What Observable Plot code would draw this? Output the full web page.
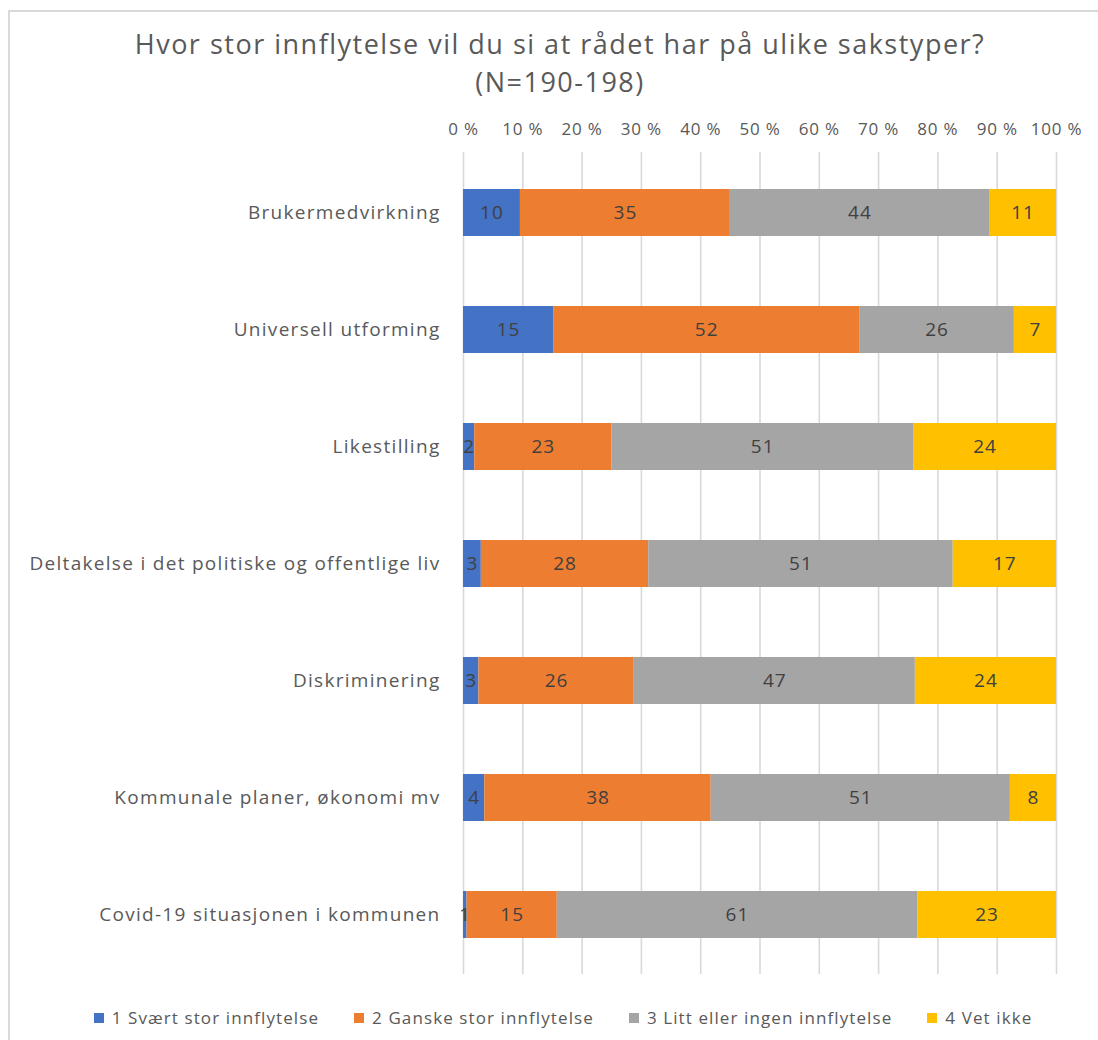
<!DOCTYPE html>
<html>
<head>
<meta charset="utf-8">
<script src="https://cdn.jsdelivr.net/npm/d3@7"></script>
<script src="https://cdn.jsdelivr.net/npm/@observablehq/plot@0.6"></script>
<style>
  html, body { margin: 0; padding: 0; background: #fff; }
  #wrap { position: relative; width: 1098px; height: 1040px; overflow: hidden; font-family: "Open Sans", sans-serif; }
  #frame { position: absolute; left: 8px; top: 10px; width: 1200px; height: 1200px; border-left: 2px solid #d9d9d9; border-top: 2px solid #d9d9d9; box-sizing: border-box; }
  #title { position: absolute; left: 0; top: 25px; width: 1120px; text-align: center; color: #595959; font-size: 27px; line-height: 38px; letter-spacing: 1.5px; }
  #chart { position: absolute; left: 0; top: 102px; }
  #chart g[aria-label="y-axis tick label"] text { letter-spacing: 1.3px; }
  #chart g[aria-label="x-axis tick label"] text { letter-spacing: 0.8px; }
  #chart g[aria-label="text"] text { letter-spacing: 1px; }
  #legend { position: absolute; left: 0; top: 1006px; width: 1126px; display: flex; justify-content: center; gap: 35px; color: #595959; font-size: 17px; letter-spacing: 1.1px; }
  #legend .item { display: flex; align-items: center; gap: 8px; }
  #legend .sw { width: 10px; height: 10px; display: inline-block; }
</style>
</head>
<body>
<div id="wrap">
  <div id="frame"></div>
  <div id="title"></div>
  <div id="chart"></div>
  <div id="legend"></div>
</div>
<script>
const titleLines = ["Hvor stor innflytelse vil du si at rådet har på ulike sakstyper?", "(N=190-198)"];
const categories = [
  "Brukermedvirkning",
  "Universell utforming",
  "Likestilling",
  "Deltakelse i det politiske og offentlige liv",
  "Diskriminering",
  "Kommunale planer, økonomi mv",
  "Covid-19 situasjonen i kommunen"
];
const series = ["1 Svært stor innflytelse", "2 Ganske stor innflytelse", "3 Litt eller ingen innflytelse", "4 Vet ikke"];
const colors = ["#4472c4", "#ed7d31", "#a5a5a5", "#ffc000"];
const s1 = [9.6, 15.2, 1.9, 3.0, 2.6, 3.6, 0.6];
const s2 = [35.4, 51.6, 23.1, 28.2, 26.2, 38.3, 15.2];
const s3 = [43.7, 26.1, 50.9, 51.3, 47.4, 50.6, 60.7];
const s4 = [11.3, 7.1, 24.1, 17.4, 23.8, 7.8, 23.4];
const xTicks = [0, 0.1, 0.2, 0.3, 0.4, 0.5, 0.6, 0.7, 0.8, 0.9, 1];

document.getElementById("title").innerHTML = titleLines.map(t => `<div>${t}</div>`).join("");

const seriesValues = [s1, s2, s3, s4];
const data = [];
categories.forEach((c, i) => {
  series.forEach((s, j) => data.push({category: c, series: s, value: seriesValues[j][i]}));
});

const chart = Plot.plot({
  width: 1098,
  height: 886,
  marginLeft: 463,
  marginRight: 42,
  marginTop: 50,
  marginBottom: 14,
  style: {fontFamily: "Open Sans, sans-serif", background: "transparent"},
  x: {domain: [0, 1], axis: null, label: null},
  y: {domain: categories, padding: 0.6, paddingOuter: 0.3, axis: null, label: null},
  color: {domain: series, range: colors},
  marks: [
    Plot.ruleX(xTicks, {stroke: "#d9d9d9", strokeWidth: 1.6}),
    Plot.axisX(xTicks, {anchor: "top", label: null, tickSize: 0, tickPadding: 18, tickFormat: d => Math.round(d * 100) + " %", fontSize: 17, color: "#595959"}),
    Plot.axisY({anchor: "left", label: null, tickSize: 0, tickPadding: 23, fontSize: 19, color: "#595959"}),
    Plot.barX(data, Plot.stackX({offset: "normalize", x: "value", y: "category", fill: "series", order: series})),
    Plot.text(data, Plot.stackX({offset: "normalize", x: "value", y: "category", z: "series", order: series, text: d => d3.format(".0f")(d.value), fill: "#404040", fontSize: 19}))
  ]
});
document.getElementById("chart").appendChild(chart);

const legend = document.getElementById("legend");
series.forEach((s, j) => {
  const item = document.createElement("div");
  item.className = "item";
  item.innerHTML = `<span class="sw" style="background:${colors[j]}"></span><span>${s}</span>`;
  legend.appendChild(item);
});
</script>
</body>
</html>
